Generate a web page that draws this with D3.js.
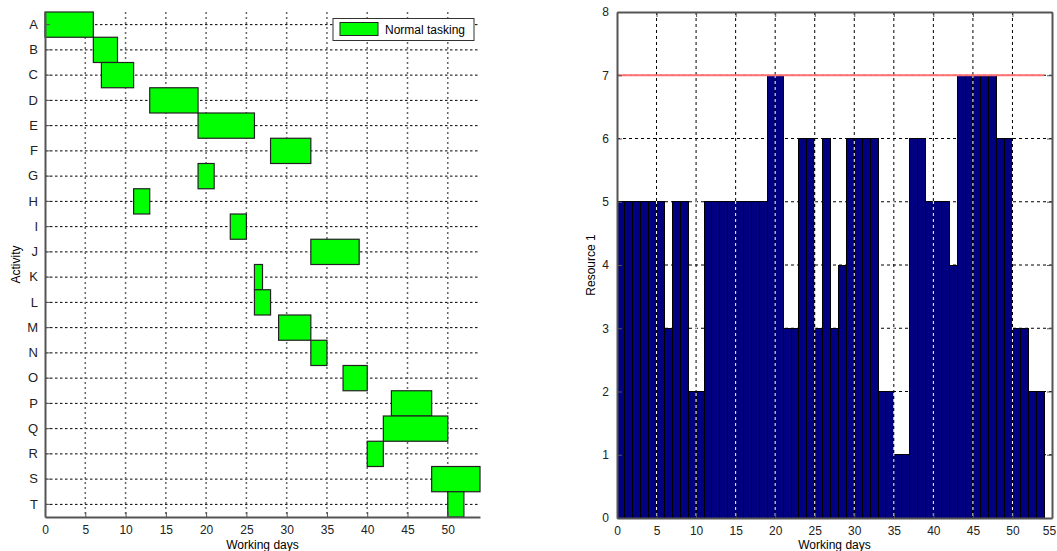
<!DOCTYPE html>
<html>
<head>
<meta charset="utf-8">
<script src="https://cdn.jsdelivr.net/npm/d3@7"></script>
<style>
  body { margin: 0; background: #fff; }
  text { font-family: "Liberation Sans", Arial, sans-serif; }
  .tick text { font-size: 12px; fill: #222; }
  .axis path, .axis line { stroke: #555; }
</style>
</head>
<body>
<div id="chart"></div>
<script>
// Data
var activities = ["A","B","C","D","E","F","G","H","I","J","K","L","M","N","O","P","Q","R","S","T"];
var taskStart = [0, 6, 7, 13, 19, 28, 19, 11, 23, 33, 26, 26, 29, 33, 37, 43, 42, 40, 48, 50];
var taskEnd   = [6, 9, 11, 19, 26, 33, 21, 13, 25, 39, 27, 28, 33, 35, 40, 48, 50, 42, 54, 52];

// resource usage for day 1..54
var resource = [5,5,5,5,5,5,3,5,5,2,2,5,5,5,5,5,5,5,5,7,7,3,3,6,6,3,6,3,4,6,6,6,6,2,2,1,1,6,6,5,5,5,4,7,7,7,7,7,6,6,3,3,2,2];
var resourceLimit = 7;
var xTicks = [0,5,10,15,20,25,30,35,40,45,50,55];
var yTicksRes = [0,1,2,3,4,5,6,7,8];

var svgWidth = 1057;
var svgHeight = 551;

var svg = d3.select("#chart")
  .append("svg")
  .attr("width", svgWidth)
  .attr("height", svgHeight);

// ---------- Left: Gantt ----------
var g1 = { left: 45, right: 480, top: 12, bottom: 517 };

var xGantt = d3.scaleLinear().domain([0, 54]).range([g1.left, g1.right]);
var yGantt = d3.scaleBand().domain(activities).range([g1.top, g1.bottom]).padding(0);

var left = svg.append("g");

// horizontal grid
left.append("g").selectAll("line")
  .data(activities)
  .enter()
  .append("line")
  .attr("x1", g1.left).attr("x2", g1.right)
  .attr("y1", d => yGantt(d) + yGantt.bandwidth() / 2)
  .attr("y2", d => yGantt(d) + yGantt.bandwidth() / 2)
  .attr("stroke", "#000")
  .attr("stroke-dasharray", "2.5,2.5");

// vertical grid
left.append("g").selectAll("line")
  .data(xTicks.filter(d => d > 0 && d <= 54))
  .enter()
  .append("line")
  .attr("x1", d => xGantt(d)).attr("x2", d => xGantt(d))
  .attr("y1", g1.top).attr("y2", g1.bottom)
  .attr("stroke", "#666")
  .attr("stroke-width", 1.5)
  .attr("stroke-dasharray", "2,3");

// task bars
left.append("g").selectAll("rect")
  .data(activities)
  .enter()
  .append("rect")
  .attr("x", (d, i) => xGantt(taskStart[i]))
  .attr("y", d => yGantt(d))
  .attr("width", (d, i) => xGantt(taskEnd[i]) - xGantt(taskStart[i]))
  .attr("height", yGantt.bandwidth())
  .attr("fill", "#00ff00")
  .attr("stroke", "#222")
  .attr("stroke-width", 1.2);

// axes
var ganttX = left.append("g")
  .attr("class", "axis")
  .attr("transform", `translate(0, ${g1.bottom})`)
  .call(d3.axisBottom(xGantt).tickValues(xTicks.filter(d => d <= 54)).tickSizeInner(-5).tickSizeOuter(0).tickPadding(8));
ganttX.select(".domain").attr("stroke-width", 2);

var ganttY = left.append("g")
  .attr("class", "axis")
  .attr("transform", `translate(${g1.left}, 0)`)
  .call(d3.axisLeft(yGantt).tickSizeInner(-5).tickSizeOuter(0).tickPadding(7));
ganttY.select(".domain").attr("stroke-width", 2);
ganttY.selectAll(".tick text").style("font-size", "13px");

left.append("text")
  .attr("x", (g1.left + g1.right) / 2)
  .attr("y", 549)
  .attr("text-anchor", "middle")
  .style("font-size", "12px")
  .text("Working days");

left.append("text")
  .attr("transform", `translate(20, ${(g1.top + g1.bottom) / 2}) rotate(-90)`)
  .attr("text-anchor", "middle")
  .style("font-size", "12px")
  .text("Activity");

// legend
var legend = left.append("g");
legend.append("rect")
  .attr("x", 333).attr("y", 18.5).attr("width", 141).attr("height", 22)
  .attr("fill", "#fff").attr("stroke", "#333");
legend.append("rect")
  .attr("x", 340).attr("y", 22.5).attr("width", 38).attr("height", 13)
  .attr("fill", "#00ff00").attr("stroke", "#222");
legend.append("text")
  .attr("x", 385).attr("y", 34)
  .style("font-size", "12px")
  .text("Normal tasking");

// ---------- Right: resource histogram ----------
var g2 = { left: 617, right: 1052, top: 12, bottom: 518 };

var xRes = d3.scaleLinear().domain([0, 55]).range([g2.left, g2.right]);
var yRes = d3.scaleLinear().domain([0, 8]).range([g2.bottom, g2.top]);

var right = svg.append("g");

// horizontal grid (behind bars)
right.append("g").selectAll("line")
  .data(yTicksRes.filter(d => d > 0 && d < 8))
  .enter()
  .append("line")
  .attr("x1", g2.left).attr("x2", g2.right)
  .attr("y1", d => yRes(d)).attr("y2", d => yRes(d))
  .attr("stroke", "#000")
  .attr("stroke-dasharray", "3,3");

// bars
right.append("g").selectAll("rect")
  .data(resource)
  .enter()
  .append("rect")
  .attr("x", (d, i) => xRes(i))
  .attr("y", d => yRes(d))
  .attr("width", (d, i) => xRes(i + 1) - xRes(i))
  .attr("height", d => yRes(0) - yRes(d))
  .attr("fill", "#000080")
  .attr("stroke", "#000")
  .attr("stroke-width", 1)
  .attr("shape-rendering", "crispEdges");

// vertical grid (drawn over the bars)
var vGrid = right.append("g");
xTicks.filter(d => d > 0 && d < 55).forEach(function(t) {
  vGrid.append("line")
    .attr("x1", xRes(t)).attr("x2", xRes(t))
    .attr("y1", g2.top).attr("y2", g2.bottom)
    .attr("stroke", "#fff")
    .attr("stroke-dasharray", "3,3")
    .attr("stroke-dashoffset", 3);
  vGrid.append("line")
    .attr("x1", xRes(t)).attr("x2", xRes(t))
    .attr("y1", g2.top).attr("y2", g2.bottom)
    .attr("stroke", "#000")
    .attr("stroke-dasharray", "3,3");
});

// resource limit
right.append("line")
  .attr("x1", xRes(0)).attr("x2", xRes(resource.length))
  .attr("y1", yRes(resourceLimit)).attr("y2", yRes(resourceLimit))
  .attr("stroke", "#ff7070")
  .attr("stroke-width", 2);

// axes and box
var resX = right.append("g")
  .attr("class", "axis")
  .attr("transform", `translate(0, ${g2.bottom})`)
  .call(d3.axisBottom(xRes).tickValues(xTicks).tickSizeInner(-5).tickSizeOuter(0).tickPadding(8));
// keep the last label inside the page
resX.selectAll(".tick text").filter(d => d === 55).attr("dx", "-3");

var resY = right.append("g")
  .attr("class", "axis")
  .attr("transform", `translate(${g2.left}, 0)`)
  .call(d3.axisLeft(yRes).tickValues(yTicksRes).tickSizeInner(-5).tickSizeOuter(0).tickPadding(8));

right.append("g")
  .attr("class", "axis")
  .attr("transform", `translate(${g2.right}, 0)`)
  .call(d3.axisRight(yRes).tickValues(yTicksRes).tickSizeInner(-5).tickSizeOuter(0).tickFormat(""));

right.append("g")
  .attr("class", "axis")
  .attr("transform", `translate(0, ${g2.top})`)
  .call(d3.axisTop(xRes).tickValues(xTicks).tickSizeInner(-5).tickSizeOuter(0).tickFormat(""));

right.selectAll(".axis .domain").attr("stroke-width", 2);

right.append("text")
  .attr("x", (g2.left + g2.right) / 2)
  .attr("y", 549)
  .attr("text-anchor", "middle")
  .style("font-size", "12px")
  .text("Working days");

right.append("text")
  .attr("transform", `translate(595, ${(g2.top + g2.bottom) / 2}) rotate(-90)`)
  .attr("text-anchor", "middle")
  .style("font-size", "12px")
  .text("Resource 1");
</script>
</body>
</html>
